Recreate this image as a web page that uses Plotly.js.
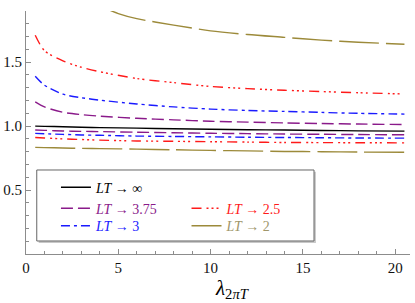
<!DOCTYPE html>
<html>
<head>
<meta charset="utf-8">
<script src="https://cdn.plot.ly/plotly-3.0.1.min.js"></script>
<style>html,body{margin:0;padding:0;background:#fff}#chart{width:415px;height:303px}</style>
</head>
<body>
<div id="chart"></div>
<script>
// x positions (λ_{2πT})
var xs = [0.5, 1, 2, 3, 4, 6, 8, 10, 12, 14, 16, 18, 20.5];
var xsOliveUp = [4.4, 5, 6, 8, 10, 12, 14, 16, 18, 20.5];

// LT -> infinity
var yInf = [1.0, 0.998, 0.995, 0.991, 0.988, 0.984, 0.979, 0.975, 0.972, 0.969, 0.966, 0.963, 0.961];
// LT -> 3.75
var y375Up = [1.19, 1.15, 1.108, 1.09, 1.078, 1.061, 1.049, 1.038, 1.031, 1.025, 1.02, 1.016, 1.012];
var y375Lo = [0.969, 0.967, 0.962, 0.959, 0.957, 0.952, 0.948, 0.944, 0.941, 0.938, 0.936, 0.934, 0.932];
// LT -> 3
var y3Up = [1.39, 1.32, 1.25, 1.222, 1.203, 1.173, 1.15, 1.133, 1.122, 1.115, 1.107, 1.1, 1.094];
var y3Lo = [0.943, 0.94, 0.935, 0.931, 0.928, 0.922, 0.919, 0.916, 0.913, 0.911, 0.909, 0.907, 0.906];
// LT -> 2.5
var y25Up = [1.71, 1.59, 1.51, 1.46, 1.425, 1.372, 1.34, 1.31, 1.293, 1.28, 1.27, 1.261, 1.251];
var y25Lo = [0.911, 0.907, 0.9, 0.895, 0.89, 0.884, 0.881, 0.878, 0.875, 0.872, 0.871, 0.87, 0.869];
// LT -> 2
var y2Up = [1.915, 1.88, 1.84, 1.79, 1.745, 1.716, 1.694, 1.672, 1.656, 1.64];
var y2Lo = [0.834, 0.832, 0.829, 0.826, 0.824, 0.82, 0.815, 0.81, 0.806, 0.802, 0.8, 0.797, 0.795];

var names = ['∞', '3.75', '3', '2.5', '2'];
var lineColors = ['#000000', '#8a1a8a', '#1a1aff', '#ff1a1a', '#9c8a3a'];
var textColors = ['#000000', '#8a1a8a', '#1a1aff', '#ff1a1a', '#a0966a'];
var dashes = ['solid', '12px,5px', '9px,4px,3px,4px', '10px,5px,2px,3px,2px,3px,2px,5px', '40px,7px'];

var SERIF = 'Liberation Serif';

function label(i) {
  return '<span style="color:' + textColors[i] + '"><i>LT</i> → ' + names[i] + '</span>';
}
function tr(x, y, i, show, leg) {
  return {
    x: x, y: y, type: 'scatter', mode: 'lines',
    line: {color: lineColors[i], width: 1.4, dash: dashes[i], shape: 'spline', smoothing: 0.8},
    name: label(i), showlegend: show, legend: leg, legendgroup: 'g' + i,
    hoverinfo: 'skip'
  };
}

var data = [
  tr(xs, yInf, 0, true, 'legend'),
  tr(xs, y375Up, 1, true, 'legend2'),
  tr(xs, y375Lo, 1, false, 'legend2'),
  tr(xs, y3Up, 2, true, 'legend3'),
  tr(xs, y3Lo, 2, false, 'legend3'),
  tr(xs, y25Up, 3, true, 'legend4'),
  tr(xs, y25Lo, 3, false, 'legend4'),
  tr(xsOliveUp, y2Up, 4, true, 'legend5'),
  tr(xs, y2Lo, 4, false, 'legend5')
];

var axisGray = '#8c8c8c';
var tickFont = {family: SERIF, size: 15, color: '#111'};
var legFont = {family: SERIF, size: 14, color: '#000'};

function leg(x, y) {
  return {x: x, y: y, xanchor: 'left', yanchor: 'top',
    bgcolor: 'rgba(0,0,0,0)', borderwidth: 0, font: legFont,
    traceorder: 'normal', tracegroupgap: 0, itemwidth: 30};
}

var layout = {
  width: 415, height: 303,
  margin: {l: 26, r: 5, t: 11, b: 49},
  paper_bgcolor: '#fff', plot_bgcolor: '#fff',
  font: {family: SERIF},
  showlegend: true,
  xaxis: {
    range: [0, 20.8], showgrid: false, zeroline: false,
    showline: true, linecolor: axisGray, linewidth: 1,
    tickmode: 'array', tickvals: [0, 5, 10, 15, 20], ticktext: ['0', '5', '10', '15', '20'],
    ticks: 'inside', ticklen: 5, tickcolor: axisGray, tickwidth: 1,
    minor: {tickmode: 'linear', tick0: 0, dtick: 1, ticks: 'inside', ticklen: 3, tickcolor: axisGray},
    tickfont: tickFont
  },
  yaxis: {
    range: [0, 1.9], showgrid: false, zeroline: false,
    showline: true, linecolor: axisGray, linewidth: 1,
    tickmode: 'array', tickvals: [0.5, 1.0, 1.5], ticktext: ['0.5', '1.0', '1.5'],
    ticks: 'inside', ticklen: 5, tickcolor: axisGray, tickwidth: 1,
    minor: {tickmode: 'linear', tick0: 0, dtick: 0.1, ticks: 'inside', ticklen: 3, tickcolor: axisGray},
    tickfont: tickFont
  },
  legend: leg(0.078, 0.339),
  legend2: leg(0.078, 0.2527),
  legend3: leg(0.078, 0.1807),
  legend4: leg(0.418, 0.2527),
  legend5: leg(0.418, 0.1807),
  shapes: [
    {type: 'rect', xref: 'paper', yref: 'paper', x0: 0.033, x1: 0.755, y0: 0.045, y1: 0.338,
      line: {width: 0}, fillcolor: '#c8c8c8', layer: 'below'},
    {type: 'rect', xref: 'paper', yref: 'paper', x0: 0.028, x1: 0.75, y0: 0.0535, y1: 0.3457,
      line: {width: 1, color: '#666'}, fillcolor: '#fff', layer: 'below'}
  ],
  annotations: [
    {xref: 'paper', yref: 'paper', x: 0.538, y: -0.142, xanchor: 'center', yanchor: 'middle',
      showarrow: false, text: '<i>λ</i><sub>2<i>πT</i></sub>',
      font: {family: SERIF, size: 21, color: '#000'}}
  ]
};

Plotly.newPlot('chart', data, layout, {displayModeBar: false, staticPlot: true});
</script>
</body>
</html>
